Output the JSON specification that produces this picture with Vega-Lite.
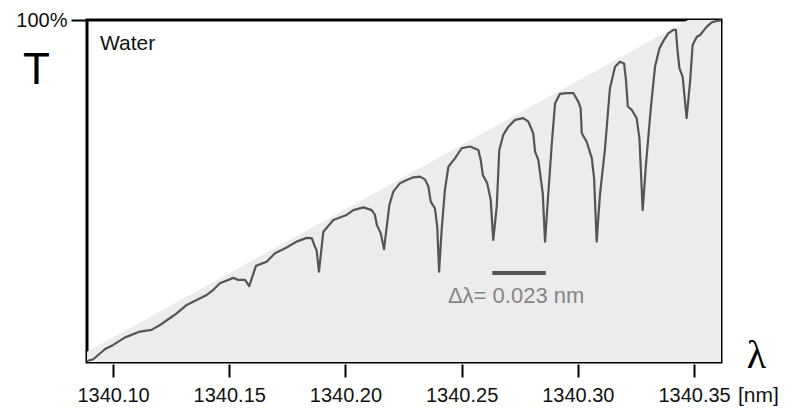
{
  "$schema": "https://vega.github.io/schema/vega-lite/v6.json",
  "autosize": {"type": "none"},
  "padding": {"left": 87, "top": 20, "right": 84, "bottom": 50},
  "width": 634,
  "height": 342,
  "background": "white",
  "config": {
    "view": {"stroke": "black", "strokeWidth": 3, "fill": "white"},
    "font": "Liberation Sans"
  },
  "datasets": {
    "envelope": [
      {"wavelength": 1340.0888, "T": 3},
      {"wavelength": 1340.3474, "T": 100},
      {"wavelength": 1340.3616, "T": 100}
    ],
    "spectrum": [
      {"wavelength": 1340.0888, "T": 0.3},
      {"wavelength": 1340.0915, "T": 0.8},
      {"wavelength": 1340.0966, "T": 3.8},
      {"wavelength": 1340.1001, "T": 5.0},
      {"wavelength": 1340.1052, "T": 7.2},
      {"wavelength": 1340.1116, "T": 8.9},
      {"wavelength": 1340.1166, "T": 9.4},
      {"wavelength": 1340.1202, "T": 10.8},
      {"wavelength": 1340.1238, "T": 12.5},
      {"wavelength": 1340.1274, "T": 14.2},
      {"wavelength": 1340.1317, "T": 16.7},
      {"wavelength": 1340.1360, "T": 18.1},
      {"wavelength": 1340.1403, "T": 19.6},
      {"wavelength": 1340.1432, "T": 21.1},
      {"wavelength": 1340.1460, "T": 23.0},
      {"wavelength": 1340.1518, "T": 24.6},
      {"wavelength": 1340.1539, "T": 24.0},
      {"wavelength": 1340.1568, "T": 24.0},
      {"wavelength": 1340.1586, "T": 22.2},
      {"wavelength": 1340.1615, "T": 28.1},
      {"wavelength": 1340.1661, "T": 29.3},
      {"wavelength": 1340.1697, "T": 31.8},
      {"wavelength": 1340.1747, "T": 33.5},
      {"wavelength": 1340.1790, "T": 35.2},
      {"wavelength": 1340.1833, "T": 36.3},
      {"wavelength": 1340.1855, "T": 36.2},
      {"wavelength": 1340.1869, "T": 33.7},
      {"wavelength": 1340.1876, "T": 32.7},
      {"wavelength": 1340.1886, "T": 26.4},
      {"wavelength": 1340.1905, "T": 38.1},
      {"wavelength": 1340.1948, "T": 41.5},
      {"wavelength": 1340.2005, "T": 43.0},
      {"wavelength": 1340.2034, "T": 44.4},
      {"wavelength": 1340.2077, "T": 45.2},
      {"wavelength": 1340.2113, "T": 44.4},
      {"wavelength": 1340.2127, "T": 43.0},
      {"wavelength": 1340.2135, "T": 40.1},
      {"wavelength": 1340.2152, "T": 37.6},
      {"wavelength": 1340.2166, "T": 33.0},
      {"wavelength": 1340.2189, "T": 45.9},
      {"wavelength": 1340.2206, "T": 49.8},
      {"wavelength": 1340.2235, "T": 52.3},
      {"wavelength": 1340.2264, "T": 53.2},
      {"wavelength": 1340.2292, "T": 54.0},
      {"wavelength": 1340.2321, "T": 54.2},
      {"wavelength": 1340.2342, "T": 53.4},
      {"wavelength": 1340.2357, "T": 51.3},
      {"wavelength": 1340.2367, "T": 46.9},
      {"wavelength": 1340.2385, "T": 44.9},
      {"wavelength": 1340.2395, "T": 39.6},
      {"wavelength": 1340.2403, "T": 26.4},
      {"wavelength": 1340.2414, "T": 38.6},
      {"wavelength": 1340.2428, "T": 50.3},
      {"wavelength": 1340.2443, "T": 57.1},
      {"wavelength": 1340.2472, "T": 59.6},
      {"wavelength": 1340.2500, "T": 62.5},
      {"wavelength": 1340.2536, "T": 63.0},
      {"wavelength": 1340.2572, "T": 62.0},
      {"wavelength": 1340.2582, "T": 59.1},
      {"wavelength": 1340.2591, "T": 54.7},
      {"wavelength": 1340.2610, "T": 52.3},
      {"wavelength": 1340.2625, "T": 47.4},
      {"wavelength": 1340.2636, "T": 35.7},
      {"wavelength": 1340.2651, "T": 45.4},
      {"wavelength": 1340.2662, "T": 62.0},
      {"wavelength": 1340.2679, "T": 66.4},
      {"wavelength": 1340.2701, "T": 68.8},
      {"wavelength": 1340.2730, "T": 70.8},
      {"wavelength": 1340.2765, "T": 71.3},
      {"wavelength": 1340.2787, "T": 70.3},
      {"wavelength": 1340.2808, "T": 66.9},
      {"wavelength": 1340.2816, "T": 61.5},
      {"wavelength": 1340.2830, "T": 59.1},
      {"wavelength": 1340.2849, "T": 49.3},
      {"wavelength": 1340.2859, "T": 35.2},
      {"wavelength": 1340.2869, "T": 45.4},
      {"wavelength": 1340.2888, "T": 63.9},
      {"wavelength": 1340.2902, "T": 75.6},
      {"wavelength": 1340.2923, "T": 78.4},
      {"wavelength": 1340.2952, "T": 78.6},
      {"wavelength": 1340.2981, "T": 78.6},
      {"wavelength": 1340.3002, "T": 76.1},
      {"wavelength": 1340.3012, "T": 74.2},
      {"wavelength": 1340.3017, "T": 66.9},
      {"wavelength": 1340.3038, "T": 64.4},
      {"wavelength": 1340.3060, "T": 59.6},
      {"wavelength": 1340.3070, "T": 53.7},
      {"wavelength": 1340.3081, "T": 35.2},
      {"wavelength": 1340.3095, "T": 48.8},
      {"wavelength": 1340.3117, "T": 62.5},
      {"wavelength": 1340.3138, "T": 80.0},
      {"wavelength": 1340.3160, "T": 86.3},
      {"wavelength": 1340.3181, "T": 87.8},
      {"wavelength": 1340.3199, "T": 87.3},
      {"wavelength": 1340.3207, "T": 82.5},
      {"wavelength": 1340.3215, "T": 74.7},
      {"wavelength": 1340.3232, "T": 73.7},
      {"wavelength": 1340.3253, "T": 71.3},
      {"wavelength": 1340.3265, "T": 65.4},
      {"wavelength": 1340.3279, "T": 44.4},
      {"wavelength": 1340.3293, "T": 57.6},
      {"wavelength": 1340.3314, "T": 74.2},
      {"wavelength": 1340.3332, "T": 86.3},
      {"wavelength": 1340.3351, "T": 91.7},
      {"wavelength": 1340.3371, "T": 94.2},
      {"wavelength": 1340.3389, "T": 96.1},
      {"wavelength": 1340.3411, "T": 97.1},
      {"wavelength": 1340.3422, "T": 97.1},
      {"wavelength": 1340.3428, "T": 91.7},
      {"wavelength": 1340.3437, "T": 85.9},
      {"wavelength": 1340.3451, "T": 83.4},
      {"wavelength": 1340.3468, "T": 71.3},
      {"wavelength": 1340.3483, "T": 82.0},
      {"wavelength": 1340.3494, "T": 92.7},
      {"wavelength": 1340.3512, "T": 95.1},
      {"wavelength": 1340.3526, "T": 95.6},
      {"wavelength": 1340.3554, "T": 98.0},
      {"wavelength": 1340.3576, "T": 99.3},
      {"wavelength": 1340.3598, "T": 99.7},
      {"wavelength": 1340.3616, "T": 99.9}
    ]
  },
  "layer": [
    {
      "data": {"name": "envelope"},
      "mark": {"type": "area", "color": "#ececec", "interpolate": "linear"},
      "encoding": {
        "x": {
          "field": "wavelength", "type": "quantitative",
          "scale": {"domain": [1340.0888, 1340.3616], "zero": false, "nice": false},
          "axis": {
            "values": [1340.10, 1340.15, 1340.20, 1340.25, 1340.30, 1340.35],
            "format": ".2f",
            "domain": false, "grid": false,
            "ticks": true, "tickSize": 13, "tickWidth": 2, "tickColor": "black", "offset": 2,
            "labelFont": "Liberation Sans",
            "labelFontSize": 20, "labelColor": "#111", "labelPadding": 8,
            "title": "λ",
            "titleFont": "Liberation Serif", "titleFontSize": 40, "titleFontWeight": "normal",
            "titleColor": "black",
            "titleX": 669, "titleY": 3, "titleAlign": "center", "titleBaseline": "alphabetic"
          }
        },
        "y": {
          "field": "T", "type": "quantitative",
          "scale": {"domain": [0, 100], "nice": false},
          "axis": {
            "values": [100],
            "labelExpr": "'100%'",
            "domain": false, "grid": false,
            "tickSize": 16, "tickWidth": 2, "tickColor": "black",
            "labelFont": "Liberation Sans", "labelFontSize": 20, "labelColor": "#111", "labelPadding": 4,
            "title": "T",
            "titleFont": "Liberation Sans", "titleFontSize": 44, "titleFontWeight": "normal",
            "titleColor": "black", "titleAngle": 0,
            "titleX": -51, "titleY": 63, "titleAlign": "center", "titleBaseline": "alphabetic"
          }
        }
      }
    },
    {
      "data": {"name": "spectrum"},
      "mark": {"type": "line", "color": "#555555", "strokeWidth": 2.2, "interpolate": "linear", "strokeJoin": "round"},
      "encoding": {
        "x": {"field": "wavelength", "type": "quantitative"},
        "y": {"field": "T", "type": "quantitative"}
      }
    },
    {
      "data": {"values": [{"label": "scale bar"}]},
      "mark": {"type": "rule", "color": "#555555", "strokeWidth": 4},
      "encoding": {
        "x": {"datum": 1340.2632, "type": "quantitative"},
        "x2": {"datum": 1340.2862},
        "y": {"datum": 26.0, "type": "quantitative"}
      }
    },
    {
      "data": {"values": [{"label": "Water"}]},
      "mark": {"type": "text", "align": "left", "baseline": "alphabetic", "fontSize": 21, "color": "#111", "font": "Liberation Sans"},
      "encoding": {
        "x": {"datum": 1340.0944, "type": "quantitative"},
        "y": {"datum": 91.2, "type": "quantitative"},
        "text": {"field": "label"}
      }
    },
    {
      "data": {"values": [{"label": "Δλ= 0.023 nm"}]},
      "mark": {"type": "text", "align": "left", "baseline": "alphabetic", "fontSize": 22, "color": "#858585", "font": "Liberation Sans"},
      "encoding": {
        "x": {"datum": 1340.2441, "type": "quantitative"},
        "y": {"datum": 17.3, "type": "quantitative"},
        "text": {"field": "label"}
      }
    },
    {
      "data": {"values": [{"label": "[nm]"}]},
      "mark": {"type": "text", "align": "left", "baseline": "alphabetic", "fontSize": 21, "color": "#111", "font": "Liberation Sans", "clip": false},
      "encoding": {
        "x": {"datum": 1340.3689, "type": "quantitative"},
        "y": {"datum": -11.7, "type": "quantitative"},
        "text": {"field": "label"}
      }
    }
  ]
}
